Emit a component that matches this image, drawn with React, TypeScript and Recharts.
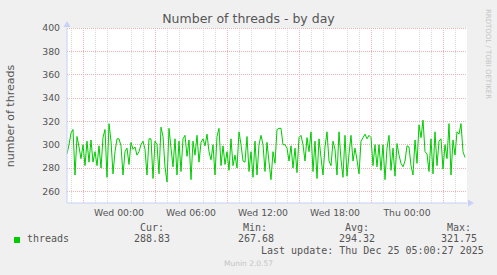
import {
  ComposedChart,
  Line,
  XAxis,
  YAxis,
  CartesianGrid,
  ReferenceDot,
} from "recharts";

// one reading every 10 minutes, starting Tue 19:40 (end of graph: Thu 05:00)
const threads = [
  292, 300, 310, 313, 274, 307, 298, 288, 300, 282, 303, 285, 304, 285, 294, 282, 299, 280, 306, 313,
  272, 318, 303, 275, 294, 305, 305, 299, 274, 294, 297, 283, 302, 296, 298, 291, 294, 300, 303, 296,
  274, 305, 305, 271, 303, 300, 275, 315, 307, 281, 268, 314, 297, 281, 305, 274, 303, 277, 305, 308,
  290, 304, 270, 303, 291, 308, 285, 302, 305, 299, 309, 294, 287, 300, 274, 307, 314, 282, 299, 283,
  294, 278, 305, 282, 291, 280, 311, 300, 286, 285, 307, 277, 294, 272, 303, 274, 300, 308, 300, 277,
  302, 285, 270, 294, 284, 313, 314, 314, 300, 300, 297, 286, 299, 280, 297, 276, 306, 308, 300, 286,
  306, 294, 311, 277, 303, 271, 305, 289, 274, 298, 311, 286, 282, 303, 296, 274, 311, 287, 272, 308,
  273, 292, 308, 286, 297, 287, 275, 303, 306, 309, 305, 308, 306, 282, 300, 281, 300, 278, 300, 270,
  297, 308, 278, 297, 273, 301, 291, 284, 281, 286, 299, 298, 282, 274, 304, 284, 317, 306, 321, 294,
  292, 277, 305, 275, 311, 282, 303, 305, 279, 300, 288, 318, 274, 304, 291, 311, 309, 318, 294, 289,
];
const stepMinutes = 10;
const spanMinutes = 2000;

const timeTicks = [260, 620, 980, 1340, 1700];
const timeTickLabels = ["Wed 00:00", "Wed 06:00", "Wed 12:00", "Wed 18:00", "Thu 00:00"];
const valueTicks = [260, 280, 300, 320, 340, 360, 380, 400];

const statLabels = ["Cur:", "Min:", "Avg:", "Max:"];
const statValues = ["288.83", "267.68", "294.32", "321.75"];

const hourMarks = Array.from({ length: 33 }, (_, i) => 20 + i * 60);
const threeHourMarks = hourMarks.filter((_, i) => i % 3 === 1);
const minorValues = Array.from({ length: 31 }, (_, i) => 250 + i * 5);

const data = threads.map((v, i) => ({ t: i * stepMinutes, threads: v }));

const AXIS = "#c8d0f8";
const TEXT = "#555";
const SANS = "DejaVu Sans, sans-serif";
const MONO = "DejaVu Sans Mono, monospace";

function UpArrow(props: any) {
  const { cx, cy } = props;
  return <path d={`M${cx - 3.5},${cy - 1} L${cx + 3.5},${cy - 1} L${cx},${cy - 7} Z`} fill={AXIS} />;
}

function RightArrow(props: any) {
  const { cx, cy } = props;
  return <path d={`M${cx + 1},${cy - 3.5} L${cx + 1},${cy + 3.5} L${cx + 7},${cy} Z`} fill={AXIS} />;
}

const statCols = [140, 243, 345, 447];
const valueCols = [134, 238, 339, 441];

export default function App() {
  return (
    <div
      style={{
        position: "fixed",
        left: 0,
        top: 0,
        width: 497,
        height: 275,
        background: "#f0f0f0",
        overflow: "hidden",
      }}
    >
      <style>{".recharts-cartesian-grid line { shape-rendering: crispEdges; }"}</style>
      <div
        style={{
          position: "absolute",
          left: 0,
          width: 497,
          top: 11,
          textAlign: "center",
          fontFamily: SANS,
          fontSize: 12.5,
          lineHeight: "16px",
          color: TEXT,
        }}
      >
        Number of threads - by day
      </div>
      <div
        style={{
          position: "absolute",
          left: 11 - 60,
          top: 116 - 7,
          width: 120,
          textAlign: "center",
          fontFamily: SANS,
          fontSize: 11,
          lineHeight: "14px",
          color: TEXT,
          transform: "rotate(-90deg)",
        }}
      >
        number of threads
      </div>
      <div
        style={{
          position: "absolute",
          left: 488 - 60,
          top: 54 - 5,
          width: 120,
          textAlign: "center",
          fontFamily: SANS,
          fontSize: 7,
          lineHeight: "10px",
          color: "#c4c4c4",
          transform: "rotate(90deg)",
        }}
      >
        RRDTOOL / TOBI OETIKER
      </div>

      <ComposedChart
        width={497}
        height={275}
        data={data}
        margin={{ top: 28, right: 30, bottom: 0, left: 0 }}
        style={{ position: "absolute", left: 0, top: 0 }}
      >
        <CartesianGrid
          fill="#ffffff"
          stroke="#dadada"
          strokeDasharray="1 1"
          horizontalValues={minorValues}
          verticalValues={hourMarks}
        />
        <CartesianGrid
          stroke="#eab4b4"
          strokeDasharray="1 1"
          horizontalValues={valueTicks}
          verticalValues={threeHourMarks}
        />
        <XAxis
          dataKey="t"
          type="number"
          domain={[0, spanMinutes]}
          ticks={timeTicks}
          tickFormatter={(v: number) => timeTickLabels[timeTicks.indexOf(v)] ?? ""}
          height={72}
          tickSize={0}
          tickMargin={6}
          tick={{ fontSize: 9.3, fill: TEXT, fontFamily: SANS }}
          axisLine={{ stroke: AXIS }}
          allowDataOverflow
        />
        <YAxis
          type="number"
          domain={[250, 400]}
          ticks={valueTicks}
          width={67}
          tickSize={0}
          tickMargin={7}
          tick={{ fontSize: 9.3, fill: TEXT, fontFamily: SANS }}
          axisLine={{ stroke: AXIS }}
          allowDataOverflow
        />
        <Line
          type="linear"
          dataKey="threads"
          stroke="#00cc00"
          strokeWidth={1}
          dot={false}
          isAnimationActive={false}
        />
        <ReferenceDot x={0} y={400} ifOverflow="visible" shape={UpArrow} />
        <ReferenceDot x={spanMinutes} y={250} ifOverflow="visible" shape={RightArrow} />
      </ComposedChart>

      <div
        style={{
          position: "absolute",
          left: 14,
          top: 237,
          width: 6,
          height: 6,
          background: "#00cc00",
        }}
      />
      <div
        style={{
          position: "absolute",
          left: 27,
          top: 233,
          fontFamily: MONO,
          fontSize: 10,
          lineHeight: "12px",
          color: TEXT,
          whiteSpace: "pre",
        }}
      >
        threads
      </div>
      {statLabels.map((s, i) => (
        <div
          key={s}
          style={{
            position: "absolute",
            left: statCols[i],
            top: 221.5,
            fontFamily: MONO,
            fontSize: 10,
            lineHeight: "12px",
            color: TEXT,
          }}
        >
          {s}
        </div>
      ))}
      {statValues.map((s, i) => (
        <div
          key={s}
          style={{
            position: "absolute",
            left: valueCols[i],
            top: 233,
            fontFamily: MONO,
            fontSize: 10,
            lineHeight: "12px",
            color: TEXT,
          }}
        >
          {s}
        </div>
      ))}
      <div
        style={{
          position: "absolute",
          left: 261,
          top: 245,
          fontFamily: MONO,
          fontSize: 10,
          lineHeight: "12px",
          color: TEXT,
          whiteSpace: "pre",
        }}
      >
        Last update: Thu Dec 25 05:00:27 2025
      </div>
      <div
        style={{
          position: "absolute",
          left: 0,
          width: 497,
          top: 259,
          textAlign: "center",
          fontFamily: SANS,
          fontSize: 7.5,
          lineHeight: "10px",
          color: "#c4c4c4",
        }}
      >
        Munin 2.0.57
      </div>
    </div>
  );
}
